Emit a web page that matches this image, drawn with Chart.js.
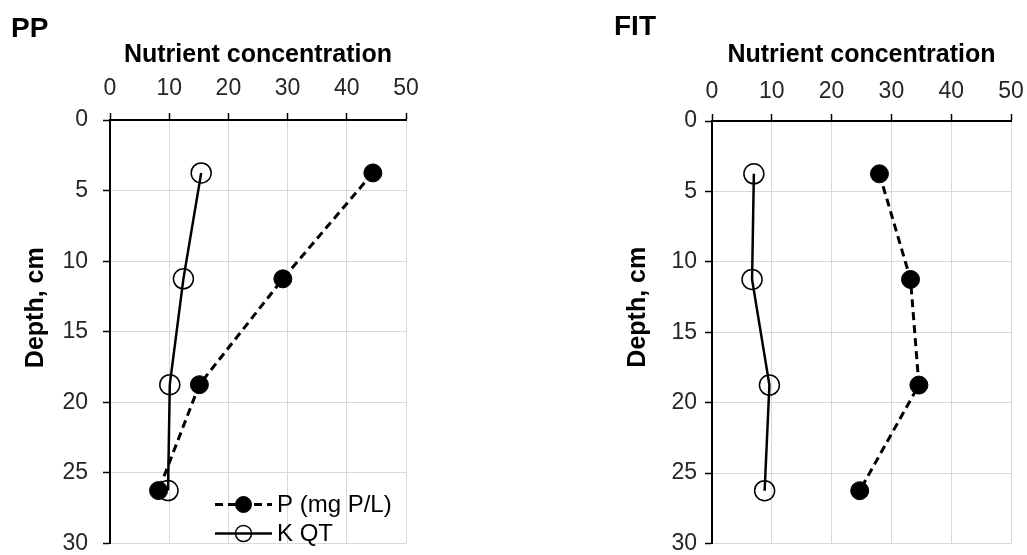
<!DOCTYPE html>
<html>
<head>
<meta charset="utf-8">
<script src="https://cdn.jsdelivr.net/npm/chart.js@4.4.0/dist/chart.umd.min.js"></script>
<style>
  body { margin: 0; background: #fff; }
  #wrap { position: relative; width: 1027px; height: 555px; overflow: hidden; }
  .panel { position: absolute; top: 0; }
  .label { position: absolute; font: bold 28px 'Liberation Sans', Arial, sans-serif; color: #000; }
</style>
</head>
<body>
<div id="wrap">
  <div class="panel" style="left:0"><canvas id="ppChart" width="513" height="555"></canvas></div>
  <div class="panel" style="left:513px"><canvas id="fitChart" width="514" height="555"></canvas></div>
  <div class="label" style="left:11px;top:12px">PP</div>
  <div class="label" style="left:614px;top:10px">FIT</div>
</div>
<script>
const depth = [3.75, 11.25, 18.75, 26.25];
const ppP = [44.4, 29.2, 15.1, 8.2];
const ppK = [15.4, 12.4, 10.1, 9.8];
const fitP = [28.0, 33.2, 34.6, 24.7];
const fitK = [7.0, 6.7, 9.6, 8.8];
const xTicks = [0, 10, 20, 30, 40, 50];
const yTicks = [0, 5, 10, 15, 20, 25, 30];
const seriesNames = ['P (mg P/L)', 'K QT'];

const fontFamily = "'Liberation Sans', Arial, sans-serif";
Chart.defaults.font.family = fontFamily;

// y title drawn by hand so it can sit a bit above the axis middle, like Excel does
const depthTitle = {
  id: 'depthTitle',
  afterDraw(chart, args, opts) {
    const y = chart.scales.y;
    const ctx = chart.ctx;
    ctx.save();
    ctx.translate(y.left + opts.offsetX, (y.top + y.bottom) / 2 - opts.shiftY);
    ctx.rotate(-Math.PI / 2);
    ctx.font = 'bold 25px ' + fontFamily;
    ctx.fillStyle = '#000';
    ctx.textAlign = 'center';
    ctx.textBaseline = 'middle';
    ctx.fillText(opts.text, 0, 0);
    ctx.restore();
  }
};

const cornerLegend = {
  id: 'cornerLegend',
  afterDatasetsDraw(chart, args, opts) {
    if (!opts.show) return;
    const {ctx, chartArea} = chart;
    chart.data.datasets.forEach((ds, i) => {
      const cy = chartArea.bottom - opts.fromBottom + i * opts.rowGap;
      const x0 = chartArea.right - opts.fromRight;
      const x1 = x0 + 57;
      ctx.save();
      ctx.strokeStyle = ds.borderColor;
      ctx.lineWidth = ds.borderWidth;
      ctx.setLineDash(ds.borderDash || []);
      ctx.beginPath();
      ctx.moveTo(x0, cy);
      ctx.lineTo(x1, cy);
      ctx.stroke();
      ctx.setLineDash([]);
      ctx.beginPath();
      ctx.arc((x0 + x1) / 2, cy, 8, 0, Math.PI * 2);
      if (ds.pointBackgroundColor !== 'rgba(0,0,0,0)') {
        ctx.fillStyle = ds.pointBackgroundColor;
        ctx.fill();
      }
      ctx.lineWidth = ds.pointBorderWidth;
      ctx.strokeStyle = ds.pointBorderColor;
      ctx.stroke();
      ctx.font = '24px ' + fontFamily;
      ctx.fillStyle = '#000';
      ctx.textBaseline = 'middle';
      ctx.fillText(ds.label, x1 + 5, cy + 1);
      ctx.restore();
    });
  }
};

function toPoints(vals) {
  return vals.map((v, i) => ({x: v, y: depth[i]}));
}

function makeChart(id, pVals, kVals, cfg) {
  const ctx = document.getElementById(id).getContext('2d');
  return new Chart(ctx, {
    type: 'scatter',
    data: {
      datasets: [{
        label: seriesNames[0],
        data: toPoints(pVals),
        showLine: true,
        borderColor: '#000',
        borderWidth: 3,
        borderDash: [8, 5],
        pointRadius: 9,
        pointBackgroundColor: '#000',
        pointBorderColor: '#000',
        pointBorderWidth: 1
      }, {
        label: seriesNames[1],
        data: toPoints(kVals),
        showLine: true,
        borderColor: '#000',
        borderWidth: 2.5,
        pointRadius: 10,
        pointBackgroundColor: 'rgba(0,0,0,0)',
        pointBorderColor: '#000',
        pointBorderWidth: 1.5
      }]
    },
    options: {
      responsive: false,
      animation: false,
      layout: {
        padding: {left: cfg.padLeft, right: cfg.padRight, top: 30, bottom: cfg.padBottom}
      },
      plugins: {
        legend: {display: false},
        tooltip: {enabled: false},
        depthTitle: {text: 'Depth, cm', offsetX: 36, shiftY: cfg.titleShift},
        cornerLegend: {show: cfg.legend, fromRight: 191, fromBottom: 39, rowGap: 29}
      },
      scales: {
        x: {
          type: 'linear',
          position: 'top',
          min: 0,
          max: 50,
          afterBuildTicks: s => { s.ticks = xTicks.map(v => ({value: v})); },
          afterFit: s => {
            s.height = cfg.axisTop - 30;
            s.paddingLeft = 0;
            s.paddingRight = 0;
          },
          grid: {color: '#d9d9d9', lineWidth: 1, tickColor: '#000', tickLength: 7, tickWidth: 1.5},
          border: {color: '#000', width: 2},
          ticks: {color: '#262626', font: {size: 23}, padding: cfg.xTickPad},
          title: {
            display: true,
            text: 'Nutrient concentration',
            color: '#000',
            font: {size: 25, weight: 'bold'},
            padding: {top: 10, bottom: 0}
          }
        },
        y: {
          type: 'linear',
          reverse: true,
          min: 0,
          max: 30,
          afterBuildTicks: s => { s.ticks = yTicks.map(v => ({value: v})); },
          afterFit: s => {
            s.width = 110;
            s.paddingTop = 0;
            s.paddingBottom = 0;
          },
          grid: {color: '#d9d9d9', lineWidth: 1, tickColor: '#000', tickLength: 7, tickWidth: 1.5},
          border: {color: '#000', width: 2},
          ticks: {color: '#262626', font: {size: 23}, padding: cfg.yTickPad}
        }
      }
    },
    plugins: [depthTitle, cornerLegend]
  });
}

makeChart('ppChart', ppP, ppK, {
  padLeft: 0, padRight: 107, padBottom: 10.5, axisTop: 120,
  xTickPad: 11, yTickPad: 15, titleShift: 24, legend: true
});
makeChart('fitChart', fitP, fitK, {
  padLeft: 89, padRight: 16, padBottom: 7, axisTop: 121,
  xTickPad: 9, yTickPad: 8, titleShift: 25, legend: false
});
</script>
</body>
</html>
